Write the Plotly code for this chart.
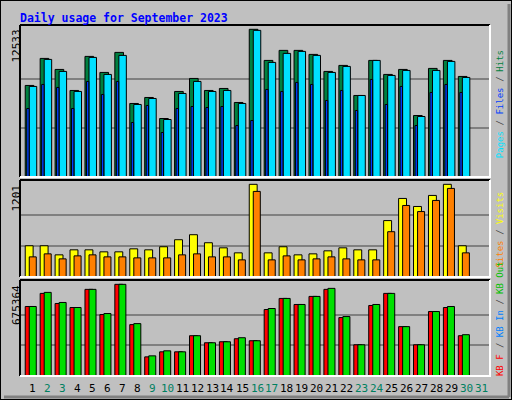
import plotly.graph_objects as go

days = list(range(1, 32))
day_labels = [str(d) for d in days]
weekend_days = [2, 3, 9, 10, 16, 17, 23, 24, 30, 31]

hits = [7769,10064,9129,7344,10234,8874,10574,6239,6749,4964,7259,8364,7344,7514,6324,12533,
        9894,10744,10744,10404,8959,9469,6919,9894,8704,9129,5219,9214,9894,8534,0]
pages = [7684,9979,8959,7259,10149,8704,10319,6154,6664,4879,7089,8109,7259,7344,6239,12444,
         9724,10489,10659,10319,8874,9384,6919,9894,8619,9044,5134,9044,9809,8449,0]
files = [5814,7854,7599,5814,8109,7004,8109,4624,6069,3774,5814,5984,5899,5984,4369,4794,
         7429,7259,8024,7854,6494,7344,5644,8279,6154,7684,4369,7174,7854,7174,0]
visits = [405,405,287,352,352,326,326,365,352,392,483,548,444,378,313,1201,
          313,392,287,300,339,378,352,352,731,1018,914,1057,1201,405,0]
sites = [261,300,235,274,287,261,261,248,248,248,287,300,261,261,222,1109,
         222,274,222,235,261,235,222,222,587,927,848,992,1148,313,0]
kb_out = [512090,615993,541777,504669,638258,460139,675364,385923,148432,185540,178118,296864,
          244913,252334,282021,259756,497247,571463,526934,586306,645679,437874,230070,526934,
          608571,363658,230070,474982,512090,304286,0]
kb_f = [512090,608571,534355,504669,638258,452718,675364,378502,141010,178118,178118,296864,
        244913,252334,274599,259756,489826,571463,526934,586306,638258,430453,230070,519512,
        608571,363658,230070,474982,504669,296864,0]

max_hits, max_visits, max_kb = 12533, 1201, 675364
title = "Daily usage for September 2023"

W, H = 512, 400
def py(p): return 1 - p / H
def px(p): return p / W

panels = [
    ("y", 25, 177, 12899, max_hits),
    ("y2", 180, 277, 1257, max_visits),
    ("y3", 280, 376, 707260, max_kb),
]

fig = go.Figure()
def bar(y, color, off, wid, axis):
    fig.add_trace(go.Bar(x=days, y=y, offset=off, width=wid, yaxis=axis, xaxis="x",
                         marker=dict(color=color, line=dict(color="black", width=1)),
                         showlegend=False, hoverinfo="skip"))

bar(hits, "#008040", -0.52, 0.58, "y")
bar(pages, "#00E0FF", -0.25, 0.5, "y")
bar(files, "#0040FF", -0.42, 0.16, "y")
bar(visits, "#FFFF00", -0.52, 0.53, "y2")
bar(sites, "#FF8000", -0.25, 0.47, "y2")
bar(kb_f, "#FF0000", -0.52, 0.53, "y3")
bar(kb_out, "#00E000", -0.25, 0.47, "y3")

layout = dict(
    width=W, height=H, margin=dict(l=0, r=0, t=0, b=0),
    paper_bgcolor="#C0C0C0", plot_bgcolor="#C0C0C0", barmode="overlay",
    xaxis=dict(range=[0.13, 31.6], domain=[px(20), px(490)], anchor="y3",
               showticklabels=False, showgrid=False, zeroline=False, ticks=""),
)
for i, (name, top, bot, rtop, mx) in enumerate(panels):
    key = "yaxis" if i == 0 else f"yaxis{i+1}"
    layout[key] = dict(domain=[py(bot), py(top)], range=[0, rtop], anchor="x",
                       tickvals=[mx / 3, 2 * mx / 3], showticklabels=False,
                       gridcolor="#808080", gridwidth=1.5, zeroline=False)
fig.update_layout(**layout)

shapes = []
for name, top, bot, rtop, mx in panels:
    shapes.append(dict(type="line", xref="paper", yref="paper", x0=px(20), x1=px(490), y0=py(top), y1=py(top), line=dict(color="black", width=2)))
    shapes.append(dict(type="line", xref="paper", yref="paper", x0=px(20), x1=px(20), y0=py(top), y1=py(bot), line=dict(color="black", width=2)))
    shapes.append(dict(type="line", xref="paper", yref="paper", x0=px(20), x1=px(491), y0=py(bot), y1=py(bot), line=dict(color="white", width=2)))
    shapes.append(dict(type="line", xref="paper", yref="paper", x0=px(490), x1=px(490), y0=py(top), y1=py(bot), line=dict(color="white", width=2)))
shapes.append(dict(type="rect", xref="paper", yref="paper", x0=0, x1=1, y0=0, y1=1, line=dict(color="black", width=2)))
shapes.append(dict(type="line", xref="paper", yref="paper", x0=px(4), x1=px(509), y0=py(397), y1=py(397), line=dict(color="#808080", width=3)))
shapes.append(dict(type="line", xref="paper", yref="paper", x0=px(509), x1=px(509), y0=py(4), y1=py(397), line=dict(color="#808080", width=3)))
fig.update_layout(shapes=shapes)

mono = "DejaVu Sans Mono"
ann = [dict(text=f"<b>{title}</b>", x=px(18), y=py(9), xref="paper", yref="paper",
            xanchor="left", yanchor="top", showarrow=False,
            font=dict(family=mono, size=11.5, color="#0000FF"))]
for name, top, bot, rtop, mx in panels:
    ann.append(dict(text=str(mx), x=px(16), y=py(top + 3), xref="paper", yref="paper",
                    xanchor="center", yanchor="top", textangle=-90, showarrow=False,
                    font=dict(family=mono, size=11, color="black")))
for d, lab in zip(days, day_labels):
    ann.append(dict(text=lab, x=d, y=py(388), xref="x", yref="paper", showarrow=False,
                    xanchor="center", yanchor="middle",
                    font=dict(family=mono, size=11, color="#008060" if d in weekend_days else "black")))

CH = 5.45  # px per char at size 9 mono
legends = [
    ([("Pages", "#00E0FF"), ("/", "#404040"), ("Files", "#0040FF"), ("/", "#404040"), ("Hits", "#008040")], 28, "top"),
    ([("Sites", "#FF8000"), ("/", "#404040"), ("Visits", "#FFFF00")], 181, "top"),
    ([("KB F", "#FF0000"), ("/", "#404040"), ("KB In", "#0080FF"), ("/", "#404040"), ("KB Out", "#00C000")], 376, "bottom"),
]
for segs, ypos, anch in legends:
    total = sum(len(t) for t, _ in segs) + 2 * (len(segs) - 1)
    bottom = ypos + total * CH if anch == "top" else ypos
    cur = bottom
    for t, c in segs:
        L = len(t) * CH
        ann.append(dict(text=t, x=px(500), y=py(cur - L / 2), xref="paper", yref="paper",
                        xanchor="center", yanchor="middle", textangle=-90, showarrow=False,
                        font=dict(family=mono, size=9, color=c)))
        cur -= L + CH
fig.update_layout(annotations=ann)

fig.write_html("out.html", config={"displayModeBar": False},
               post_script="document.body.style.margin='0';document.body.style.padding='0';")
